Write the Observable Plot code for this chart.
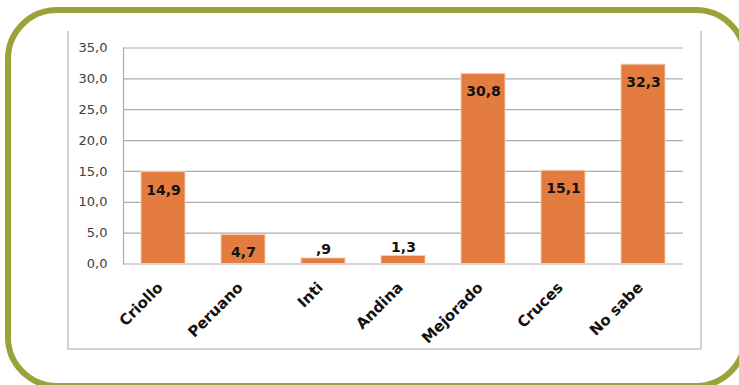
<!DOCTYPE html>
<html><head><meta charset="utf-8">
<script src="https://cdn.jsdelivr.net/npm/d3@7"></script>
<script src="https://cdn.jsdelivr.net/npm/@observablehq/plot@0.6"></script>
<style>
html,body{margin:0;padding:0;background:#fff;}
#wrap{position:relative;width:739px;height:385px;overflow:hidden;}
#frame{position:absolute;left:5px;top:7px;width:731px;height:370px;border:6px solid #9aa33a;border-radius:52px;}
#box{position:absolute;left:67px;top:31px;width:635px;height:319px;box-sizing:border-box;border-left:2px solid #d2d2d2;border-right:2px solid #d2d2d2;border-bottom:2px solid #d2d2d2;}
#chart{position:absolute;left:0;top:0;}
</style>
</head><body>
<div id="wrap"><div id="frame"></div><div id="box"></div><div id="chart"></div></div>
<script>
const categories = ["Criollo","Peruano","Inti","Andina","Mejorado","Cruces","No sabe"];
const values = [14.9, 4.7, 0.9, 1.3, 30.8, 15.1, 32.3];
const yTicks = [0, 5, 10, 15, 20, 25, 30, 35];

const fmt = v => v.toFixed(1).replace(".", ",");
const fmtLabel = v => fmt(v).replace(/^0,/, ",");
const data = categories.map((c, i) => ({cat: c, value: values[i], label: fmtLabel(values[i])}));

const chart = Plot.plot({
  width: 739,
  height: 385,
  marginLeft: 123,
  marginRight: 56,
  marginTop: 47.5,
  marginBottom: 121.5,
  style: {fontFamily: "'DejaVu Sans', Verdana, sans-serif", background: "transparent", overflow: "visible"},
  x: {type: "band", domain: categories, paddingInner: 0.45, paddingOuter: 0.225},
  y: {domain: [0, 35]},
  marks: [
    Plot.gridY(yTicks, {stroke: "#adadad", strokeOpacity: 1, strokeWidth: 1.2}),
    Plot.frame({anchor: "left", stroke: "#adadad", strokeWidth: 1.2}),
    Plot.barY(data, {x: "cat", y: "value", fill: "#e47c3f", stroke: "#f6cdb0", strokeWidth: 1}),
    Plot.text(data.filter(d => d.value >= 3), {x: "cat", y: "value", text: "label", dy: 18, fontSize: 14, fontWeight: "bold", fill: "#111"}),
    Plot.text(data.filter(d => d.value < 3), {x: "cat", y: "value", text: "label", dy: -4, lineAnchor: "bottom", fontSize: 14, fontWeight: "bold", fill: "#111"}),
    Plot.axisY(yTicks, {tickSize: 0, tickPadding: 16, tickFormat: fmt, fontSize: 13, fill: "#404040", label: null}),
    Plot.axisX({tickRotate: -45, tickSize: 0, tickPadding: 21, dx: -3, fontSize: 15, fontWeight: "bold", fill: "#111", label: null})
  ]
});
document.getElementById("chart").appendChild(chart);
</script>
</body></html>
